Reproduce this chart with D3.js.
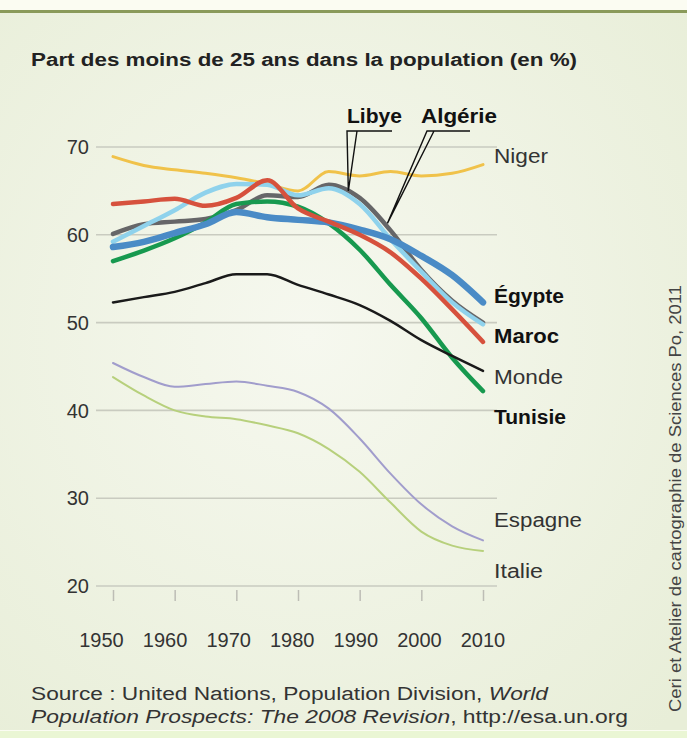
<!DOCTYPE html>
<html><head><meta charset="utf-8">
<script src="https://cdn.jsdelivr.net/npm/d3@7"></script>
<style>html,body{margin:0;padding:0;background:#fff;}svg{display:block;font-family:"Liberation Sans",Arial,sans-serif;}</style>
</head><body>
<script>
const years = [1950,1955,1960,1965,1970,1975,1980,1985,1990,1995,2000,2005,2010];
const niger   = [68.9,67.9,67.4,67.0,66.5,65.8,65.0,67.2,66.7,67.2,66.7,67.0,68.0];
const maroc   = [63.5,63.8,64.1,63.3,64.2,66.2,63.0,61.5,60.0,58.0,55.0,51.5,47.8];
const tunisie = [57.0,58.2,59.6,61.4,63.5,63.8,63.2,61.3,58.3,54.3,50.5,46.0,42.2];
const egypte  = [58.6,59.2,60.2,61.2,62.6,62.0,61.7,61.4,60.6,59.5,57.6,55.4,52.3];
const algerie = [59.2,61.0,62.8,64.8,65.8,65.7,64.5,65.3,63.5,59.5,55.8,52.3,49.8];
const libye   = [60.1,61.2,61.5,61.8,62.8,64.5,64.3,65.7,64.2,60.5,56.0,52.5,50.0];
const monde   = [52.3,52.9,53.5,54.5,55.5,55.5,54.3,53.2,52.0,50.2,48.0,46.2,44.5];
const espagne = [45.4,43.8,42.7,43.0,43.3,42.8,42.1,40.2,36.8,32.8,29.3,26.8,25.2];
const italie  = [43.8,41.7,40.0,39.3,39.0,38.3,37.4,35.6,33.0,29.5,26.2,24.6,24.0];
const yTicks = [20,30,40,50,60,70];
const xTicks = [1950,1960,1970,1980,1990,2000,2010];
const title = "Part des moins de 25 ans dans la population (en %)";
const credit = "Ceri et Atelier de cartographie de Sciences Po, 2011";

const W = 687, H = 738;
const svg = d3.select("body").append("svg").attr("width", W).attr("height", H);
const defs = svg.append("defs");
const rg = defs.append("radialGradient").attr("id","bg").attr("cx","45%").attr("cy","45%").attr("r","75%");
rg.append("stop").attr("offset","0%").attr("stop-color","#f6f8ef");
rg.append("stop").attr("offset","100%").attr("stop-color","#e8eed8");

svg.append("rect").attr("width",W).attr("height",H).attr("fill","#fbfcf2");
svg.append("rect").attr("x",0).attr("y",12).attr("width",W).attr("height",718).attr("fill","url(#bg)");
svg.append("rect").attr("x",0).attr("y",10).attr("width",W).attr("height",3).attr("fill","#8a9a5a");
svg.append("rect").attr("x",0).attr("y",731).attr("width",W).attr("height",7).attr("fill","#eaf6d4");

const x = d3.scaleLinear().domain([1950,2010]).range([113,483]);
const xLab = d3.scaleLinear().domain([1950,2010]).range([101.5,483]);
const y = d3.scaleLinear().domain([20,70]).range([586,147]);

function fitText(sel, len){ sel.attr("textLength", len).attr("lengthAdjust","spacingAndGlyphs"); return sel; }

// title
fitText(svg.append("text").attr("x",31).attr("y",66).attr("font-size",18).attr("font-weight","bold").attr("fill","#222").text(title), 546);

// grid
const g = svg.append("g");
g.selectAll("line.grid").data(yTicks).join("line").attr("class","grid")
  .attr("x1",96).attr("x2",497).attr("y1",d=>y(d)).attr("y2",d=>y(d))
  .attr("stroke","#c9cbc0").attr("stroke-width",1.6);
g.selectAll("text.yl").data(yTicks).join("text").attr("class","yl")
  .attr("x",89).attr("y",d=>y(d)).attr("dy","0.36em").attr("text-anchor","end")
  .attr("font-size",20).attr("fill","#333").text(d=>d);

// x ticks
const xAxis = d3.axisBottom(x).tickValues(xTicks).tickSize(11).tickFormat("");
const ax = svg.append("g").attr("transform","translate(0,590)").call(xAxis);
ax.select(".domain").remove();
ax.selectAll(".tick line").attr("stroke","#bdbdb5").attr("stroke-width",1.5);
svg.selectAll("text.xl").data(xTicks).join("text").attr("class","xl")
  .attr("x",d=>xLab(d)).attr("y",647).attr("text-anchor","middle")
  .attr("font-size",20).attr("fill","#333").text(d=>d);

const line = d3.line().x((d,i)=>x(years[i])).y(d=>y(d)).curve(d3.curveMonotoneX);
const series = [
  {v:italie, c:"#b7d07c", w:2},
  {v:espagne, c:"#a19dcc", w:2},
  {v:niger, c:"#f0c24a", w:3},
  {v:libye, c:"#666668", w:4.5},
  {v:algerie, c:"#8fd2ec", w:4.5},
  {v:tunisie, c:"#17994f", w:4.5},
  {v:egypte, c:"#4a8bc6", w:6.5},
  {v:maroc, c:"#d6513d", w:4.5},
  {v:monde, c:"#1a1a1a", w:2.5}
];
svg.append("g").selectAll("path").data(series).join("path")
  .attr("d",d=>line(d.v)).attr("fill","none").attr("stroke",d=>d.c)
  .attr("stroke-width",d=>d.w).attr("stroke-linejoin","round").attr("stroke-linecap","round");

// right labels
const labels = [
  {t:"Niger", yy:163, b:false, w:54},
  {t:"Égypte", yy:303, b:true, w:70},
  {t:"Maroc", yy:343, b:true, w:65},
  {t:"Monde", yy:384, b:false, w:69},
  {t:"Tunisie", yy:424, b:true, w:72},
  {t:"Espagne", yy:527, b:false, w:88},
  {t:"Italie", yy:578, b:false, w:49}
];
labels.forEach(l=>{
  fitText(svg.append("text").attr("x",494).attr("y",l.yy).attr("font-size",20)
    .attr("font-weight",l.b?"bold":"normal").attr("fill",l.b?"#111":"#333").text(l.t), l.w);
});

// callouts
const lx = x(1988), ly = y(65.0);
svg.append("path").attr("d",`M392,131H347L${lx+1},${ly}M357,131L${lx+1},${ly}`)
  .attr("fill","none").attr("stroke","#111").attr("stroke-width",1.4);
fitText(svg.append("text").attr("x",347).attr("y",123).attr("font-size",20).attr("font-weight","bold").attr("fill","#111").text("Libye"),55);
const axp = x(1994.5), ayp = y(61.3);
svg.append("path").attr("d",`M470,131H427L${axp},${ayp}M434,131L${axp},${ayp}`)
  .attr("fill","none").attr("stroke","#111").attr("stroke-width",1.4);
fitText(svg.append("text").attr("x",421).attr("y",123).attr("font-size",20).attr("font-weight","bold").attr("fill","#111").text("Algérie"),76);

// source
fitText(svg.append("text").attr("x",31).attr("y",700).attr("font-size",18).attr("fill","#333")
  .html('Source : United Nations, Population Division, <tspan font-style="italic">World</tspan>'), 517);
fitText(svg.append("text").attr("x",31).attr("y",723).attr("font-size",18).attr("fill","#333")
  .html('<tspan font-style="italic">Population Prospects: The 2008 Revision</tspan>, http://esa.un.org'), 597);

// credit
fitText(svg.append("text").attr("transform","translate(681,712) rotate(-90)").attr("font-size",16).attr("fill","#444").text(credit), 427);
</script>
</body></html>
